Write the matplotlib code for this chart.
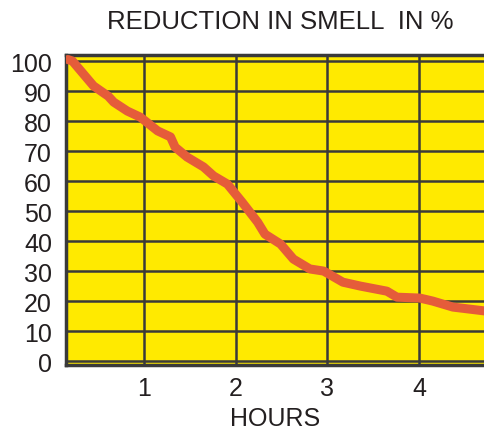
import matplotlib.pyplot as plt

hours = [0.17, 0.22, 0.45, 0.61, 0.67, 0.82, 0.96, 1.15, 1.29, 1.34, 1.47, 1.65, 1.76, 1.91,
         2.07, 2.24, 2.32, 2.49, 2.63, 2.81, 2.96, 3.17, 3.36, 3.65, 3.76, 4.01, 4.15, 4.37, 4.72]
reduction = [100.5, 100, 91.7, 88.3, 86.3, 83.3, 81.3, 76.7, 74.7, 71.3, 68, 64.7, 61.7, 59,
             53, 46.3, 42.3, 39, 34, 30.7, 30, 26.3, 25, 23.3, 21.3, 21, 20, 18, 16.7]
xticks = [1, 2, 3, 4]
yticks = [0, 10, 20, 30, 40, 50, 60, 70, 80, 90, 100]

plt.rcParams['font.family'] = ['Liberation Sans', 'DejaVu Sans']

fig = plt.figure(figsize=(4.85, 4.31), dpi=100)
ax = fig.add_axes([66 / 485, 65 / 431, 419 / 485, 310 / 431])
ax.set_facecolor('#ffea00')

ax.plot(hours, reduction, color='#e55c3a', linewidth=6.5, solid_capstyle='round',
        solid_joinstyle='round', zorder=3)

ax.set_xlim(0.15, 4.72)
ax.set_ylim(-1.3, 102)
ax.set_xticks(xticks)
ax.set_yticks(yticks)
ax.grid(True, color='#3a3a3a', linewidth=1.8)
ax.tick_params(length=0, labelsize=18, colors='#231f20')
ax.tick_params(axis='y', pad=10)
ax.tick_params(axis='x', pad=8)
for s in ['left', 'bottom', 'top']:
    ax.spines[s].set_color('#3a3a3a')
    ax.spines[s].set_linewidth(2.5)
ax.spines['right'].set_visible(False)

ax.set_xlabel('HOURS', fontsize=18, color='#231f20', labelpad=4)
fig.text(280 / 485, 1 - 22 / 431, 'REDUCTION IN SMELL  IN %', fontsize=18.5,
         color='#231f20', ha='center', va='center')

fig.savefig('out.png', dpi=100)
